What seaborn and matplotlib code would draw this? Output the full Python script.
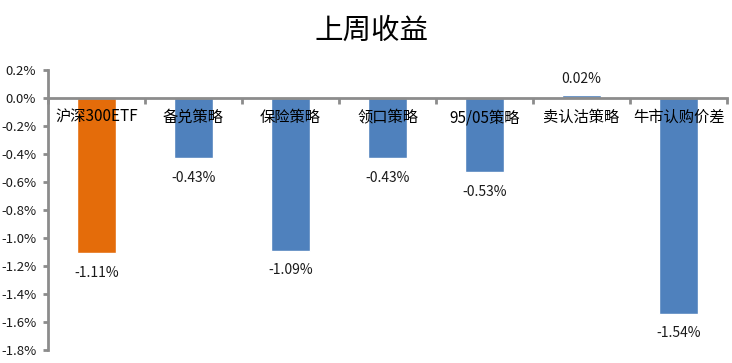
import matplotlib
matplotlib.use("Agg")
import matplotlib.pyplot as plt
import seaborn as sns
import numpy as np
import pandas as pd
from matplotlib.ticker import FixedLocator, FuncFormatter

categories = ["沪深300ETF", "备兑策略", "保险策略", "领口策略", "95/05策略", "卖认沽策略", "牛市认购价差"]
values = [-1.11, -0.43, -1.09, -0.43, -0.53, 0.02, -1.54]
bar_colors = ["#E46C0A", "#4F81BD", "#4F81BD", "#4F81BD", "#4F81BD", "#4F81BD", "#4F81BD"]
yticks = [0.2, 0.0, -0.2, -0.4, -0.6, -0.8, -1.0, -1.2, -1.4, -1.6, -1.8]
title = "上周收益"

sns.set_theme(style="white")
plt.rcParams['font.family'] = ['Noto Sans CJK SC', 'DejaVu Sans']
plt.rcParams['axes.unicode_minus'] = False

df = pd.DataFrame({"cat": categories, "val": values})

fig = plt.figure(figsize=(7.32, 3.63), dpi=100)
ax = fig.add_axes([48/732, 1-350/363, (727-48)/732, 280/363])

sns.barplot(data=df, x="cat", y="val", hue="cat", palette=bar_colors,
            legend=False, width=0.4, ax=ax, saturation=1)

ax.set_xlim(-0.5, len(categories) - 0.5)
ax.set_ylim(-1.8, 0.2)
ax.set_xlabel("")
ax.set_ylabel("")
ax.set_axisbelow(False)

axis_color = "#8C8C8C"
for s in ["top", "right"]:
    ax.spines[s].set_visible(False)
ax.spines["left"].set_color(axis_color)
ax.spines["left"].set_linewidth(2)
ax.spines["bottom"].set_position(("data", 0))
ax.spines["bottom"].set_color(axis_color)
ax.spines["bottom"].set_linewidth(2)

ax.yaxis.set_major_locator(FixedLocator(yticks))
ax.yaxis.set_major_formatter(FuncFormatter(lambda v, p: f"{v:.1f}%"))
ax.tick_params(axis="y", which="major", direction="out", length=3.5, width=2,
               color=axis_color, labelsize=9.5, labelcolor="#1a1a1a", pad=5, left=True)

# x ticks at boundaries, labels at centers
ax.xaxis.set_major_locator(FixedLocator(np.arange(-0.5, len(categories), 1.0)))
ax.xaxis.set_major_formatter(FuncFormatter(lambda v, p: ""))
ax.set_xticks(np.arange(len(categories)), labels=categories, minor=True)
ax.tick_params(axis="x", which="major", direction="out", length=4, width=2,
               color=axis_color, bottom=True)
ax.tick_params(axis="x", which="minor", length=0, labelsize=11, labelcolor="black", pad=8)

for i, v in enumerate(values):
    off = 12 if v >= 0 else -14
    ax.annotate(f"{v:.2f}%", xy=(i, v), xytext=(0, off), textcoords="offset points",
                ha="center", va="center", fontsize=10, color="#1a1a1a")

fig.text(0.507, 1 - 31/363, title, ha="center", va="center", fontsize=20.5,
         fontweight="normal", color="black")

fig.savefig("out.png", dpi=100)
